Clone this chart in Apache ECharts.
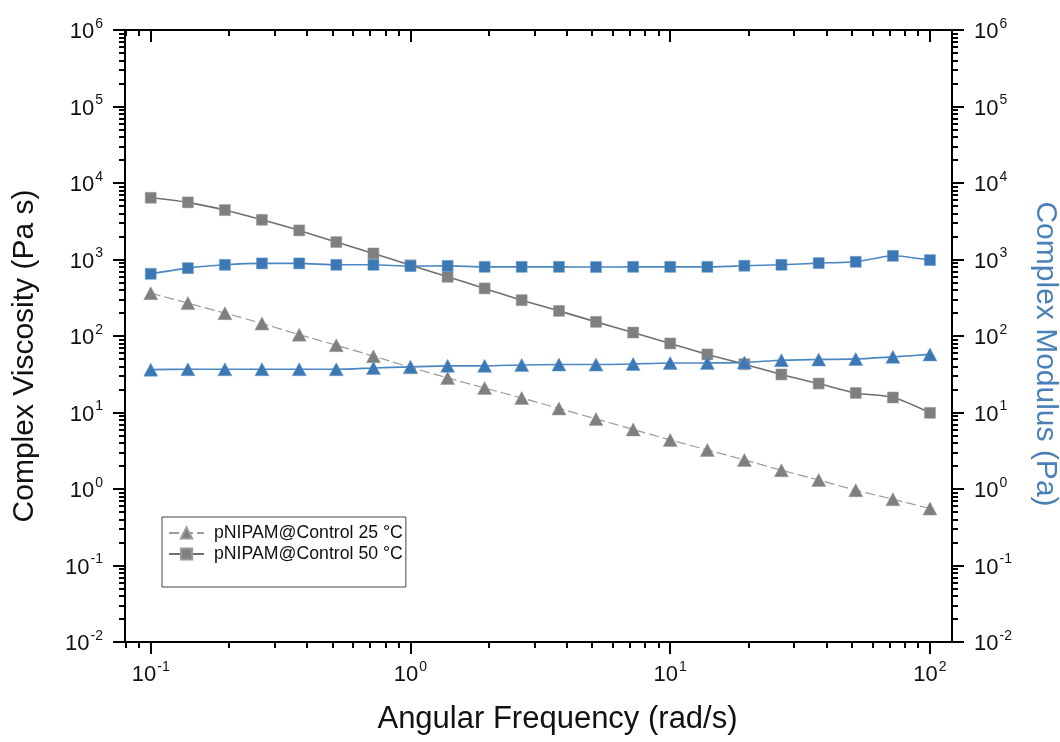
<!DOCTYPE html>
<html>
<head>
<meta charset="utf-8">
<script src="https://cdn.jsdelivr.net/npm/echarts@6/dist/echarts.min.js"></script>
<style>
html,body{margin:0;padding:0;background:#ffffff;}
#chart{width:1060px;height:742px;}
</style>
</head>
<body>
<div id="chart"></div>
<script>
// Angular frequency (rad/s)
const freq = [0.1, 0.139, 0.193, 0.268, 0.373, 0.518, 0.72, 1, 1.39, 1.93, 2.68, 3.73, 5.18, 7.2, 10, 13.9, 19.3, 26.8, 37.3, 51.8, 72, 100];
// Complex viscosity (Pa s)
const visc25 = [363, 269, 199, 146, 104, 75.9, 54.5, 39, 28.3, 20.9, 15.5, 11.3, 8.24, 6.01, 4.38, 3.24, 2.40, 1.76, 1.31, 0.963, 0.735, 0.555];
const visc50 = [6410, 5580, 4425, 3300, 2400, 1690, 1200, 840, 594, 419, 294, 213, 153, 111, 79.9, 57.4, 42.8, 31.4, 23.9, 18.0, 15.7, 9.9];
// Complex modulus (Pa)
const mod25 = [36.3, 36.8, 36.8, 36.8, 36.8, 36.8, 38.2, 39.5, 40.7, 40.7, 41.8, 42.4, 42.4, 43.2, 44.3, 44.5, 45.2, 48.3, 49.3, 50.2, 53.4, 57.5];
const mod50 = [650, 771, 852, 889, 889, 852, 852, 820, 825, 802, 802, 802, 797, 802, 802, 802, 828, 852, 897, 933, 1117, 982];
// Tick values
const xMajor = [0.1, 1, 10, 100];
const xMinor = [0.08, 0.09, 0.2, 0.3, 0.4, 0.5, 0.6, 0.7, 0.8, 0.9, 2, 3, 4, 5, 6, 7, 8, 9, 20, 30, 40, 50, 60, 70, 80, 90];
const yMajor = [0.01, 0.1, 1, 10, 100, 1000, 10000, 100000, 1000000];
const yMinor = [];
[0.01, 0.1, 1, 10, 100, 1000, 10000, 100000].forEach(function (d) {
  for (let k = 2; k <= 9; k++) yMinor.push(+(d * k).toPrecision(3));
});
const xRange = [0.0796, 121.6];
const yRange = [0.01, 1000000];

const FONT = 'Liberation Sans, Arial, sans-serif';
const GRAY = '#7f7f7f';
const BLUE = '#3b78b4';

function powLabel(v) {
  const e = Math.round(Math.log10(v));
  return '{b|10}{s|' + e + '}';
}
const richLab = {
  b: { fontSize: 22, fontFamily: FONT, color: '#111', lineHeight: 26, verticalAlign: 'bottom' },
  s: { fontSize: 14, fontFamily: FONT, color: '#111', lineHeight: 26, verticalAlign: 'top', padding: [0, 0, 0, 1] }
};

function xAx(pos, tickVals, len, inside, labels, extra) {
  return Object.assign({
    type: 'log', logBase: 10, position: pos, min: xRange[0], max: xRange[1],
    axisLine: { show: true, onZero: false, lineStyle: { color: '#000', width: 2 } },
    axisTick: { show: true, customValues: tickVals, length: len, inside: inside, lineStyle: { color: '#000', width: 2 } },
    minorTick: { show: false },
    axisLabel: labels ? { show: true, customValues: xMajor, formatter: powLabel, rich: richLab, margin: 18 } : { show: false },
    splitLine: { show: false }
  }, extra || {});
}
function yAx(pos, tickVals, len, labels, extra) {
  return Object.assign({
    type: 'log', logBase: 10, position: pos, min: yRange[0], max: yRange[1],
    axisLine: { show: true, onZero: false, lineStyle: { color: '#000', width: 2 } },
    axisTick: { show: true, customValues: tickVals, length: len, inside: false, lineStyle: { color: '#000', width: 2 } },
    minorTick: { show: false },
    axisLabel: labels ? { show: true, customValues: yMajor, formatter: powLabel, rich: richLab, margin: 22 } : { show: false },
    splitLine: { show: false }
  }, extra || {});
}

const chart = echarts.init(document.getElementById('chart'), null, { renderer: 'canvas' });
chart.setOption({
  backgroundColor: '#ffffff',
  animation: false,
  grid: { left: 125, right: 108, top: 30, bottom: 100, containLabel: false, outerBoundsMode: 'none' },
  legend: {
    orient: 'vertical', left: 162, top: 517,
    data: ['pNIPAM@Control 25 °C', 'pNIPAM@Control 50 °C'],
    borderColor: '#444', borderWidth: 1, borderRadius: 0,
    padding: [7, 3, 24, 6],
    itemWidth: 35, itemHeight: 14, itemGap: 3,
    textStyle: { fontFamily: FONT, fontSize: 17.7, color: '#111', padding: [0, 0, 0, 5] }
  },
  xAxis: [
    xAx('bottom', xMajor, 12, false, true, {
      name: 'Angular Frequency (rad/s)', nameLocation: 'middle', nameGap: 62,
      nameTextStyle: { fontFamily: FONT, fontSize: 31, color: '#111', padding: [0, 0, 0, 38] }
    }),
    xAx('bottom', xMinor, 6, false, false),
    xAx('top', xMajor, 12, true, false),
    xAx('top', xMinor, 6, true, false)
  ],
  yAxis: [
    yAx('left', yMajor, 12, true, {
      name: 'Complex Viscosity (Pa s)', nameLocation: 'middle', nameGap: 85, nameRotate: 90,
      nameTextStyle: { fontFamily: FONT, fontSize: 30, color: '#111', padding: [0, 40, 0, 0] }
    }),
    yAx('left', yMinor, 6, false),
    yAx('right', yMajor, 12, true, {
      name: 'Complex Modulus (Pa)', nameLocation: 'middle', nameGap: 78, nameRotate: -90,
      nameTextStyle: { fontFamily: FONT, fontSize: 30, color: '#4a80b8', padding: [0, 0, 0, 36] }
    }),
    yAx('right', yMinor, 6, false)
  ],
  series: [
    {
      name: 'pNIPAM@Control 25 °C', type: 'line', xAxisIndex: 0, yAxisIndex: 0,
      data: freq.map(function (f, i) { return [f, visc25[i]]; }),
      symbol: 'triangle', symbolSize: [14, 13], smooth: 0.2,
      lineStyle: { color: '#9a9a9a', width: 1.2, type: [10, 4] },
      itemStyle: { color: GRAY, borderColor: '#9a9a9a', borderWidth: 0.5 }, z: 3
    },
    {
      name: 'pNIPAM@Control 50 °C', type: 'line', xAxisIndex: 0, yAxisIndex: 0,
      data: freq.map(function (f, i) { return [f, visc50[i]]; }),
      symbol: 'rect', symbolSize: 11, smooth: 0.3,
      lineStyle: { color: '#6f6f6f', width: 1.6 },
      itemStyle: { color: GRAY, borderColor: '#9a9a9a', borderWidth: 0.5 }, z: 3
    },
    {
      name: 'Modulus 25 °C', type: 'line', xAxisIndex: 0, yAxisIndex: 2,
      data: freq.map(function (f, i) { return [f, mod25[i]]; }),
      symbol: 'triangle', symbolSize: [14, 13], smooth: 0.2,
      lineStyle: { color: '#4c86c0', width: 1.6 },
      itemStyle: { color: BLUE, borderColor: '#6a9bd0', borderWidth: 0.5 }, z: 4
    },
    {
      name: 'Modulus 50 °C', type: 'line', xAxisIndex: 0, yAxisIndex: 2,
      data: freq.map(function (f, i) { return [f, mod50[i]]; }),
      symbol: 'rect', symbolSize: 11, smooth: 0.2,
      lineStyle: { color: '#4c86c0', width: 1.6 },
      itemStyle: { color: BLUE, borderColor: '#6a9bd0', borderWidth: 0.5 }, z: 4
    }
  ]
});
</script>
</body>
</html>
